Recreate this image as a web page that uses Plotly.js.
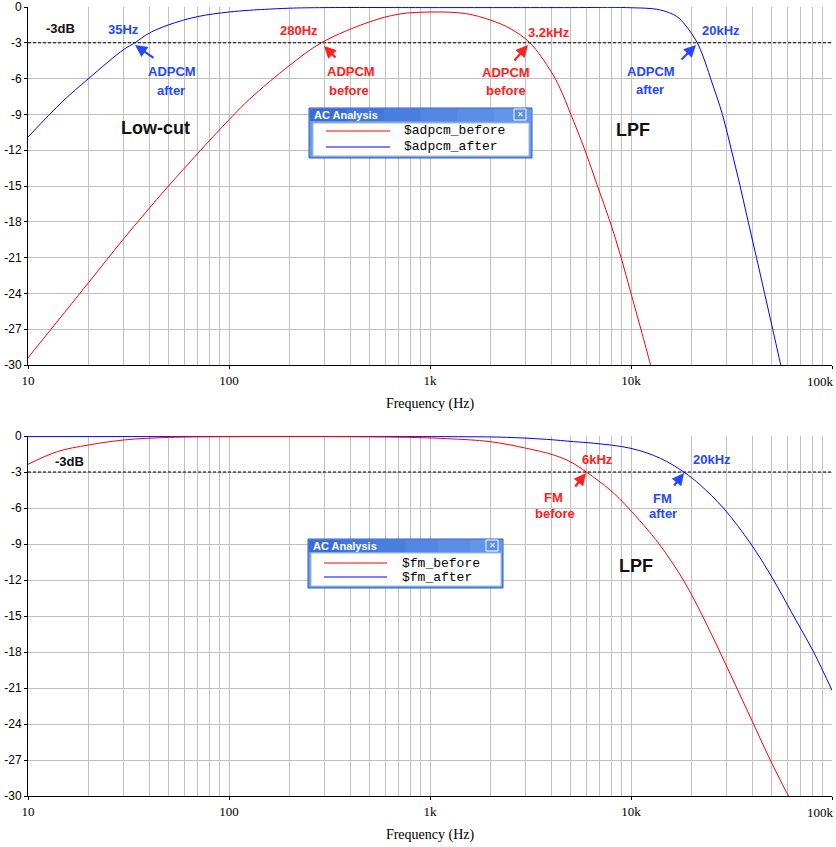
<!DOCTYPE html>
<html><head><meta charset="utf-8">
<script src="https://cdn.plot.ly/plotly-3.0.1.min.js"></script>
<style>html,body{margin:0;padding:0;background:#fff;} #chart{width:836px;height:847px;}</style>
</head><body><div id="chart"></div>
<script>
// ---- data (frequency in Hz, level in dB) ----
const adpcmBeforeFreq = [10, 20, 30, 50, 100, 127, 200, 288, 500, 700, 1000, 1500, 2000, 2500, 3140, 4000, 4430, 5020, 5900, 6810, 7870, 8930, 10000, 11200, 12500, 12900];
const adpcmBeforeDb   = [-29.4, -23.1, -19.4, -15.0, -9.45, -7.7, -4.9, -3.0, -1.25, -0.6, -0.42, -0.55, -1.1, -1.8, -3.0, -5.4, -6.8, -9.0, -12.0, -15.0, -18.0, -21.0, -24.0, -27.0, -30.0, -31.0];

const adpcmAfterFreq = [10, 14.9, 20, 30, 34, 40, 50, 70, 100, 127, 150, 200, 300, 1000, 5000, 9500, 14000, 16900, 18600, 21300, 22900, 24900, 28500, 31600, 34900, 38300, 42100, 46200, 50700, 55600, 57500];
const adpcmAfterDb   = [-10.9, -7.9, -6.0, -3.55, -3.0, -2.2, -1.5, -0.8, -0.42, -0.27, -0.2, -0.1, -0.05, -0.05, -0.05, -0.05, -0.25, -0.8, -1.5, -2.96, -4.2, -6.0, -9.0, -12.0, -15.0, -18.0, -21.0, -24.0, -27.0, -30.0, -31.0];

const fmBeforeFreq = [10, 14, 20, 30, 50, 100, 357, 764, 1210, 1990, 3030, 4110, 4980, 6030, 7870, 9700, 13800, 18200, 22700, 27700, 33600, 40700, 49300, 60800, 64000];
const fmBeforeDb   = [-2.36, -1.3, -0.75, -0.33, -0.12, -0.05, -0.05, -0.11, -0.22, -0.47, -1.03, -1.58, -2.14, -3.03, -4.5, -6.0, -9.0, -12.0, -15.0, -18.0, -21.0, -24.0, -27.0, -30.0, -30.6];

const fmAfterFreq = [10, 100, 764, 1500, 2400, 3800, 5170, 6500, 10000, 14000, 18400, 22100, 28800, 39500, 51200, 64400, 81000, 100000];
const fmAfterDb   = [-0.05, -0.05, -0.05, -0.06, -0.11, -0.28, -0.47, -0.6, -1.03, -1.86, -3.03, -4.08, -6.0, -9.0, -12.0, -15.0, -18.0, -21.2];

const freqTicks  = [10, 100, 1000, 10000, 100000];
const freqLabels = ['10', '100', '1k', '10k', ''];
const lastFreqLabel = '100k';
const dbTicks    = [0, -3, -6, -9, -12, -15, -18, -21, -24, -27, -30];
const dbLabels   = ['0', '-3', '-6', '-9', '-12', '-15', '-18', '-21', '-24', '-27', '-30'];
const minorFreq  = [20,30,40,50,60,70,80,90,200,300,400,500,600,700,800,900,2000,3000,4000,5000,6000,7000,8000,9000,20000,30000,40000,50000,60000,70000,80000,90000];

// ---- geometry helpers ----
const W = 836, H = 847, ML = 28, MR = 4;
const PW = W - ML - MR;
const px = x => (x - ML) / PW;
const py = y => 1 - y / H;

const RED = '#ff0000', BLUE = '#0000ff';
const TRED = '#ff2020', TBLUE = '#2447ff';
const SANS = 'Liberation Sans, Arial, sans-serif';
const SERIF = 'Liberation Serif, Times New Roman, serif';
const MONO = 'Liberation Mono, Courier New, monospace';

const LINE = c => ({color: c, width: 1, shape: 'spline', smoothing: 1.0});
const traces = [
  {x: adpcmAfterFreq, y: adpcmAfterDb, xaxis: 'x', yaxis: 'y', mode: 'lines', name: '$adpcm_after', line: LINE(BLUE)},
  {x: adpcmBeforeFreq, y: adpcmBeforeDb, xaxis: 'x', yaxis: 'y', mode: 'lines', name: '$adpcm_before', line: LINE(RED)},
  {x: fmAfterFreq, y: fmAfterDb, xaxis: 'x2', yaxis: 'y2', mode: 'lines', name: '$fm_after', line: LINE(BLUE)},
  {x: fmBeforeFreq, y: fmBeforeDb, xaxis: 'x2', yaxis: 'y2', mode: 'lines', name: '$fm_before', line: LINE(RED)}
];

function xAxis(anchor) {
  return {
    type: 'log', range: [1, 5], anchor: anchor,
    tickvals: freqTicks, ticktext: freqLabels,
    ticks: 'outside', ticklen: 3, tickcolor: '#000',
    showgrid: true, gridcolor: '#c0c0c0', gridwidth: 1,
    minor: {tickvals: minorFreq, showgrid: true, gridcolor: '#c0c0c0', gridwidth: 1, ticks: ''},
    showline: true, linecolor: '#000', linewidth: 1,
    zeroline: false,
    tickfont: {family: SERIF, size: 13, color: '#000'},
    title: {text: 'Frequency (Hz)', font: {family: SERIF, size: 14, color: '#000'}, standoff: 11},
    automargin: false
  };
}
function yAxis(anchor, domain) {
  return {
    range: [-30, 0], domain: domain, anchor: anchor,
    tickvals: dbTicks, ticktext: dbLabels,
    ticks: 'outside', ticklen: 3, tickcolor: '#000',
    showgrid: true, gridcolor: '#c0c0c0', gridwidth: 1,
    showline: true, linecolor: '#000', linewidth: 1,
    zeroline: false,
    tickfont: {family: SANS, size: 12, color: '#000'},
    automargin: false
  };
}

const annotations = [];
const shapes = [];
function label(x, y, text, color, size) {
  annotations.push({xref: 'paper', yref: 'paper', x: px(x), y: py(y), text: '<b>' + text + '</b>', showarrow: false,
    xanchor: 'center', yanchor: 'middle', font: {family: SANS, size: size || 13, color: color}});
}
function arrow(hx, hy, tx, ty, color) {
  annotations.push({xref: 'paper', yref: 'paper', x: px(hx), y: py(hy), ax: tx - hx, ay: ty - hy, text: '',
    showarrow: true, arrowhead: 2, arrowsize: 1.1, arrowwidth: 2.2, arrowcolor: color, standoff: 0, startstandoff: 0});
}

// last decade label, kept inside the page like the original
annotations.push({xref: 'paper', yref: 'paper', x: 1, xshift: MR, y: py(381), text: lastFreqLabel, showarrow: false,
  xanchor: 'right', yanchor: 'middle', font: {family: SERIF, size: 13, color: '#000'}});
annotations.push({xref: 'paper', yref: 'paper', x: 1, xshift: MR, y: py(812), text: lastFreqLabel, showarrow: false,
  xanchor: 'right', yanchor: 'middle', font: {family: SERIF, size: 13, color: '#000'}});

// top chart labels
label(60, 28, '-3dB', '#111');
label(123, 30, '35Hz', TBLUE);
arrow(135, 45, 155, 59, TBLUE);
label(172, 71, 'ADPCM', TBLUE); label(171, 90, 'after', TBLUE);
label(299, 31, '280Hz', TRED);
arrow(324, 46, 337, 59, TRED);
label(351, 71, 'ADPCM', TRED); label(349, 90, 'before', TRED);
label(549, 32, '3.2kHz', TRED);
arrow(528, 45, 513, 62, TRED);
label(506, 72, 'ADPCM', TRED); label(506, 90, 'before', TRED);
label(721, 31, '20kHz', TBLUE);
arrow(696, 45, 680, 61, TBLUE);
label(651, 71, 'ADPCM', TBLUE); label(650, 89, 'after', TBLUE);
label(155, 128, 'Low-cut', '#111', 18);
label(633, 130, 'LPF', '#111', 18);

// bottom chart labels
label(69, 462, '-3dB', '#111');
label(597, 459, '6kHz', TRED);
arrow(586, 473, 574, 488, TRED);
label(553, 497, 'FM', TRED); label(555, 513, 'before', TRED);
label(712, 459, '20kHz', TBLUE);
arrow(684, 473, 673, 487, TBLUE);
label(662, 498, 'FM', TBLUE); label(663, 513, 'after', TBLUE);
label(636, 566, 'LPF', '#111', 18);

// -3 dB reference lines
shapes.push({type: 'line', xref: 'x domain', yref: 'y', x0: 0, x1: 1, y0: -3, y1: -3, line: {color: '#000', width: 1, dash: '3px,2px'}});
shapes.push({type: 'line', xref: 'x2 domain', yref: 'y2', x0: 0, x1: 1, y0: -3, y1: -3, line: {color: '#000', width: 1, dash: '3px,2px'}});

// "AC Analysis" legend windows
function rect(x0, y0, x1, y1, fill, lineColor, lw) {
  shapes.push({type: 'rect', xref: 'paper', yref: 'paper', x0: px(x0), x1: px(x1), y0: py(y1), y1: py(y0),
    fillcolor: fill, line: {color: lineColor, width: lw === undefined ? 1 : lw}, layer: 'above'});
}
function hline(x0, x1, y, color) {
  shapes.push({type: 'line', xref: 'paper', yref: 'paper', x0: px(x0), x1: px(x1), y0: py(y), y1: py(y), line: {color: color, width: 1.2}, layer: 'above'});
}
function legendBox(b, names) {
  rect(b.x0, b.y0, b.x1, b.y1, '#6b9be6', '#2f5fc0', 1);
  const steps = 6;
  for (let i = 0; i < steps; i++) {
    const a = b.x0 + 1 + (b.x1 - b.x0 - 2) * i / steps;
    const c = b.x0 + 1 + (b.x1 - b.x0 - 2) * (i + 1) / steps;
    const t = i / (steps - 1);
    const r = Math.round(58 + t * 40), g = Math.round(110 + t * 40), bl = Math.round(214 + t * 20);
    rect(a, b.y0 + 1, c + 0.5, b.y0 + 13, 'rgb(' + r + ',' + g + ',' + bl + ')', 'rgba(0,0,0,0)', 0);
  }
  rect(b.ix0, b.iy0, b.ix1, b.iy1, '#ffffff', '#9db7e6', 1);
  rect(b.cx0, b.y0 + 1, b.cx0 + 12, b.y0 + 12, '#5d8de0', '#ffffff', 1);
  annotations.push({xref: 'paper', yref: 'paper', x: px(b.cx0 + 6), y: py(b.y0 + 6.5), text: '<b>✕</b>', showarrow: false,
    xanchor: 'center', yanchor: 'middle', font: {family: 'DejaVu Sans', size: 8, color: '#fff'}});
  annotations.push({xref: 'paper', yref: 'paper', x: px(b.x0 + 3), y: py(b.y0 + 7), text: '<b>AC Analysis</b>', showarrow: false,
    xanchor: 'left', yanchor: 'middle', font: {family: SANS, size: 11, color: '#fff'}});
  hline(b.lx0, b.lx1, b.r1, RED);
  hline(b.lx0, b.lx1, b.r2, BLUE);
  annotations.push({xref: 'paper', yref: 'paper', x: px(b.tx), y: py(b.r1), text: names[0], showarrow: false,
    xanchor: 'left', yanchor: 'middle', font: {family: MONO, size: 13, color: '#000'}});
  annotations.push({xref: 'paper', yref: 'paper', x: px(b.tx), y: py(b.r2), text: names[1], showarrow: false,
    xanchor: 'left', yanchor: 'middle', font: {family: MONO, size: 13, color: '#000'}});
}
legendBox({x0: 309, y0: 108, x1: 532, y1: 158, ix0: 313, iy0: 123, ix1: 529, iy1: 156, cx0: 514, lx0: 326, lx1: 390, r1: 131, r2: 147, tx: 402},
  ['$adpcm_before', '$adpcm_after']);
legendBox({x0: 308, y0: 539, x1: 503, y1: 588, ix0: 311, iy0: 553, ix1: 501, iy1: 586, cx0: 486, lx0: 324, lx1: 387, r1: 563, r2: 577, tx: 400},
  ['$fm_before', '$fm_after']);

const layout = {
  width: W, height: H,
  margin: {l: ML, r: MR, t: 0, b: 0},
  paper_bgcolor: '#fff', plot_bgcolor: '#fff',
  showlegend: false,
  xaxis: xAxis('y'),
  yaxis: yAxis('x', [1 - 365 / H, 1 - 7 / H]),
  xaxis2: xAxis('y2'),
  yaxis2: yAxis('x2', [1 - 796 / H, 1 - 436 / H]),
  annotations: annotations,
  shapes: shapes
};

Plotly.newPlot('chart', traces, layout, {staticPlot: true, displayModeBar: false});
</script>
</body></html>
